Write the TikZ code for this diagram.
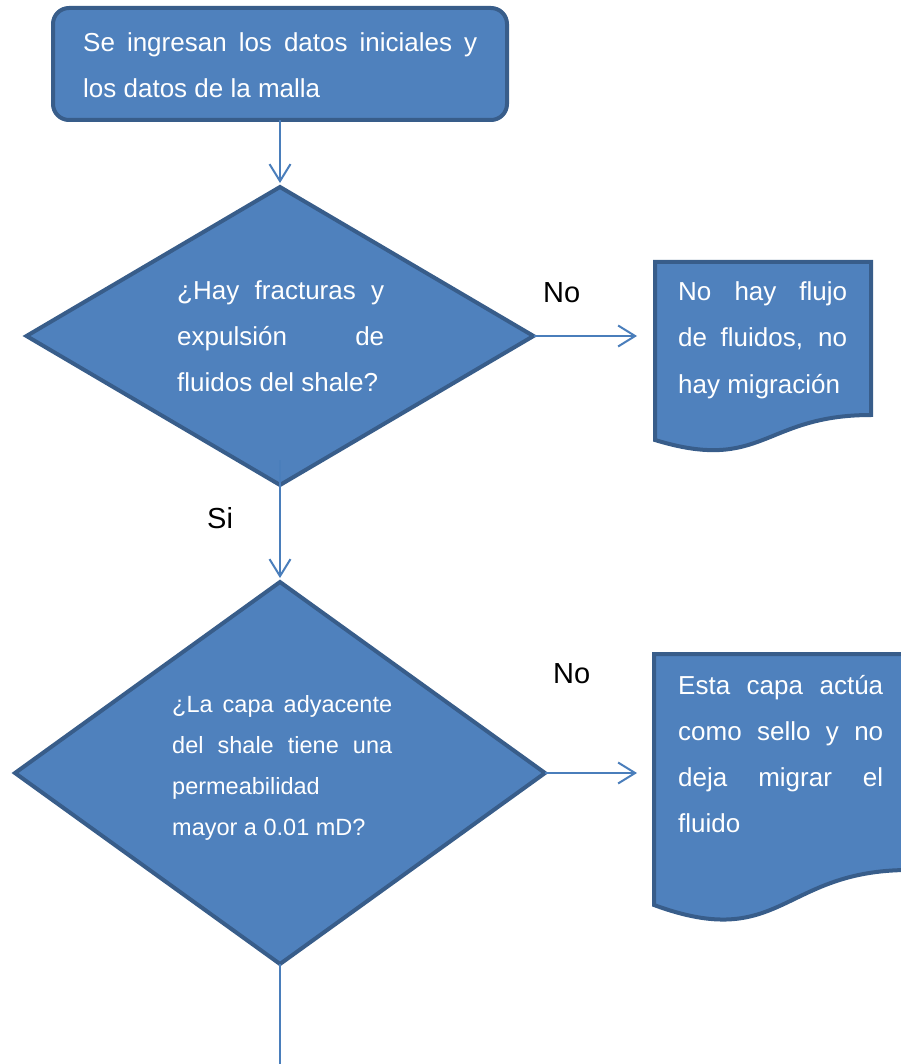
\documentclass[tikz,border=0pt]{standalone}
\usepackage{fontspec}
\setmainfont{Liberation Sans}
\usetikzlibrary{arrows.meta,shapes.geometric}
\definecolor{fillb}{HTML}{4F81BD}
\definecolor{edgeb}{HTML}{385D8A}
\definecolor{linkb}{HTML}{4A7EBB}
\newcommand{\jline}[2]{\makebox[#1][s]{#2}}
\newcommand{\natsp}{\spaceskip=0pt\relax\xspaceskip=0pt\relax}
\begin{document}
\begin{tikzpicture}[x=1pt,y=-1pt,
  shapebox/.style={fill=fillb,draw=edgeb,line width=4pt,line join=miter},
  decision/.style={shapebox,diamond,inner sep=0pt,outer sep=0pt},
  link/.style={draw=linkb,line width=2pt,-{Straight Barb[length=17pt,width=21pt,line width=2pt]}},
  plainlink/.style={draw=linkb,line width=2pt},
  boxtext/.style={text=white,inner sep=0pt,anchor=base west,align=left,font=\fontsize{26}{46}\selectfont},
  smalltext/.style={boxtext,font=\fontsize{23.5}{41}\selectfont},
  answer/.style={text=black,inner sep=0pt,anchor=base west,font=\fontsize{29}{35}\selectfont}
]
\useasboundingbox (0,0) rectangle (900,1064);

% start box
\node[shapebox,rounded corners=16pt,minimum width=454pt,minimum height=112pt,inner sep=0pt,outer sep=0pt] (start) at (280,64) {};
\node[boxtext,text width=394pt] (starttext) at (83,52)
  {\natsp\jline{394pt}{Se ingresan los datos iniciales y}\\los datos de la malla};

% decision 1
\node[decision,minimum width=507pt,minimum height=298pt] (d1) at (280,336) {};
\node[boxtext,text width=207pt] (d1text) at (177,299)
  {\natsp\jline{207pt}{¿Hay fracturas y}\\\jline{207pt}{expulsión de}\\fluidos del shale?};

% document 1
\draw[shapebox] (655,262) -- (871,262) -- (871,415)
  .. controls (763,415) and (763,473) .. (655,440) -- cycle;
\node[boxtext,text width=169pt] (doc1text) at (678,301)
  {\natsp\jline{169pt}{No hay flujo}\\\jline{169pt}{de fluidos, no}\\hay migración};

% decision 2
\node[decision,minimum width=530pt,minimum height=382pt] (d2) at (280,773) {};
\node[smalltext,text width=220pt] (d2text) at (172,712)
  {\natsp\jline{220pt}{¿La capa adyacente}\\\jline{220pt}{del shale tiene una}\\permeabilidad\\mayor a 0.01 mD?};

% document 2
\draw[shapebox] (654,654) -- (909,654) -- (909,870)
  .. controls (781.5,870) and (781.5,952) .. (654,905) -- cycle;
\node[boxtext,text width=205pt] (doc2text) at (678,694)
  {\natsp\jline{205pt}{Esta capa actúa}\\\jline{205pt}{como sello y no}\\\jline{205pt}{deja migrar el}\\fluido};

% labels
\node[answer] (no1) at (543,302) {No};
\node[answer] (no2) at (553,683) {No};
\node[answer] (si) at (207,528) {Si};

% connectors
\coordinate (t1) at (637,336);
\coordinate (t2) at (637,773);
\coordinate (s1) at (280,460);
\coordinate (endpt) at (280,1070);
\draw[link,shorten >=4pt] (start.south) -- (d1.north);
\draw[link] (d1.east) -- (t1);
\draw[link,shorten >=4pt] (s1) -- (d2.north);
\draw[link] (d2.east) -- (t2);
\draw[plainlink] (d2.south) -- (endpt);
\end{tikzpicture}
\end{document}
